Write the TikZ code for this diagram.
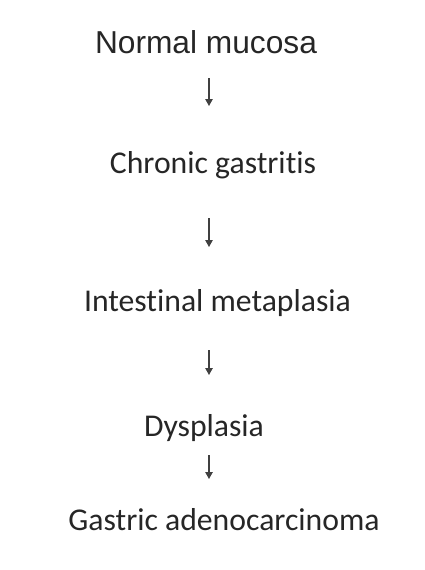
\documentclass[tikz,border=0pt]{standalone}
\usepackage{fontspec}
\setmainfont{Carlito}[Ligatures=CommonOff]
\newfontfamily\arialfont{Liberation Sans}
\usetikzlibrary{arrows.meta}

\begin{document}
\begin{tikzpicture}[x=1pt,y=-1pt,
    stage/.style={inner sep=0pt,anchor=base,text=black!85,font=\fontsize{31.7}{38}\selectfont},
    flow/.style={-{Triangle[width=7.5pt,length=7pt]},line width=1.2pt,draw=black!75}]
    \useasboundingbox (0,0) rectangle (424,570);
    \coordinate (ax) at (209,0);
    \node[stage,font=\arialfont\fontsize{31.7}{38}\selectfont] (normal) at (206,53) {Normal mucosa};
    \node[stage] (chronic) at (213,173) {Chronic gastritis};
    \node[stage] (intestinal) at (217.5,311) {Intestinal metaplasia};
    \node[stage] (dysplasia) at (204,436) {Dysplasia};
    \node[stage] (gastric) at (224,530) {Gastric adenocarcinoma};
    \draw[flow,shorten <=25pt,shorten >=67pt] (normal.base -| ax) -- (chronic.base -| ax);
    \draw[flow,shorten <=45pt,shorten >=64pt] (chronic.base -| ax) -- (intestinal.base -| ax);
    \draw[flow,shorten <=39pt,shorten >=61pt] (intestinal.base -| ax) -- (dysplasia.base -| ax);
    \draw[flow,shorten <=19pt,shorten >=51pt] (dysplasia.base -| ax) -- (gastric.base -| ax);
\end{tikzpicture}
\end{document}
